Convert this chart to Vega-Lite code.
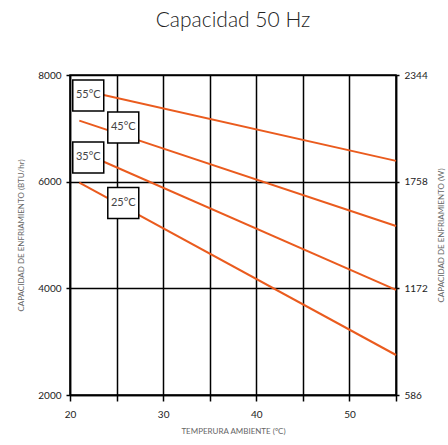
{
  "$schema": "https://vega.github.io/schema/vega-lite/v6.json",
  "width": 326,
  "height": 320,
  "autosize": "none",
  "padding": {"left": 70, "top": 75, "right": 52, "bottom": 50},
  "background": "white",
  "title": {"text": "Capacidad 50 Hz", "fontSize": 21, "font": "Lato", "fontWeight": 300, "color": "#222", "offset": 39, "anchor": "middle"},
  "config": {
    "view": {"stroke": "#000", "strokeWidth": 1.5},
    "axis": {
      "domainColor": "#000", "domainWidth": 1.5, "tickColor": "#000", "tickWidth": 1.5,
      "gridColor": "#000", "gridWidth": 1.5, "gridOpacity": 1,
      "labelFont": "Lato", "labelFontSize": 10, "labelColor": "#222",
      "titleFont": "Lato", "titleFontSize": 8, "titleFontWeight": "normal", "titleColor": "#666"
    }
  },
  "datasets": {
    "lines": [
      {"serie": "55°C", "temp": 21, "btu": 7730},
      {"serie": "55°C", "temp": 55, "btu": 6390},
      {"serie": "45°C", "temp": 21, "btu": 7145},
      {"serie": "45°C", "temp": 55, "btu": 5170},
      {"serie": "35°C", "temp": 21, "btu": 6575},
      {"serie": "35°C", "temp": 55, "btu": 3970},
      {"serie": "25°C", "temp": 21, "btu": 5980},
      {"serie": "25°C", "temp": 55, "btu": 2750}
    ],
    "labels": [
      {"label": "55°C", "temp": 21.96, "btu": 7616},
      {"label": "45°C", "temp": 25.72, "btu": 7016},
      {"label": "35°C", "temp": 21.96, "btu": 6454},
      {"label": "25°C", "temp": 25.72, "btu": 5601}
    ]
  },
  "layer": [
    {
      "data": {"name": "lines"},
      "mark": {"type": "line", "color": "#EA5B1E", "strokeWidth": 2},
      "encoding": {
        "x": {"field": "temp", "type": "quantitative", "scale": {"domain": [20, 55], "nice": false, "zero": false},
          "axis": {"values": [20, 25, 30, 35, 40, 45, 50, 55], "labelExpr": "datum.value % 10 == 0 ? datum.label : ''",
            "tickSize": 6, "labelPadding": 8, "title": "TEMPERURA AMBIENTE (ºC)", "titlePadding": 8, "labelFlush": false}},
        "y": {"field": "btu", "type": "quantitative", "scale": {"domain": [2000, 8000], "nice": false, "zero": false},
          "axis": {"values": [2000, 4000, 6000, 8000], "format": "d", "tickSize": 4, "labelPadding": 5, "orient": "left",
            "title": "CAPACIDAD DE ENFRIAMIENTO (BTU/hr)", "titlePadding": 12, "labelFlush": false}},
        "detail": {"field": "serie"}
      }
    },
    {
      "data": {"name": "labels"},
      "mark": {"type": "point", "shape": "square", "size": 960, "filled": true, "fill": "white", "stroke": "#000", "strokeWidth": 1.5, "opacity": 1},
      "encoding": {
        "x": {"field": "temp", "type": "quantitative", "scale": {"domain": [20, 55], "nice": false, "zero": false}},
        "y": {"field": "btu", "type": "quantitative", "scale": {"domain": [2000, 8000], "nice": false, "zero": false},
          "axis": {"values": [2000, 4000, 6000, 8000], "orient": "right", "grid": false, "tickSize": 3, "labelPadding": 5,
            "labelExpr": "format(datum.value / 3.413, 'd')", "title": "CAPACIDAD DE ENFRIAMIENTO (W)", "titleAngle": -90,
            "titlePadding": 18, "labelFlush": false}}
      }
    },
    {
      "data": {"name": "labels"},
      "mark": {"type": "text", "fontSize": 11, "font": "Lato", "color": "#444"},
      "encoding": {
        "x": {"field": "temp", "type": "quantitative", "scale": {"domain": [20, 55], "nice": false, "zero": false}},
        "y": {"field": "btu", "type": "quantitative", "scale": {"domain": [2000, 8000], "nice": false, "zero": false}, "axis": null},
        "text": {"field": "label"}
      }
    }
  ],
  "resolve": {"scale": {"y": "independent"}}
}
